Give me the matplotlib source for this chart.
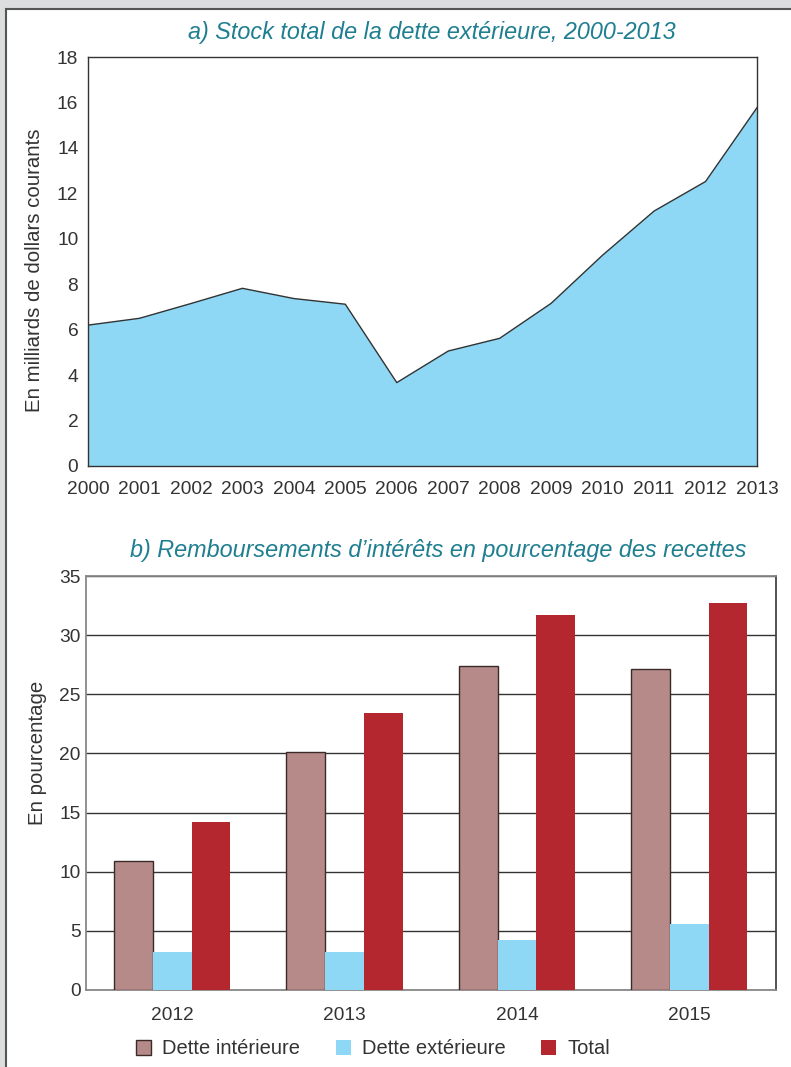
import matplotlib
matplotlib.use("Agg")
import matplotlib.pyplot as plt
from matplotlib.patches import Rectangle, Patch
import numpy as np

plt.rcParams['font.family'] = ['Liberation Sans', 'DejaVu Sans']

years_a = [2000, 2001, 2002, 2003, 2004, 2005, 2006, 2007, 2008, 2009, 2010, 2011, 2012, 2013]
stock = [6.2, 6.5, 7.15, 7.82, 7.37, 7.12, 3.67, 5.06, 5.62, 7.16, 9.28, 11.22, 12.52, 15.77]

years_b = ['2012', '2013', '2014', '2015']
dette_int = [10.93, 20.1, 27.4, 27.1]
dette_ext = [3.21, 3.21, 4.23, 5.58]
total = [14.2, 23.4, 31.7, 32.7]

title_a = "a) Stock total de la dette extérieure, 2000-2013"
title_b = "b) Remboursements d\u2019intérêts en pourcentage des recettes"

W, H = 791, 1067
fig = plt.figure(figsize=(W / 100, H / 100), dpi=100)
fig.patch.set_facecolor('#dcdddf')
fig.patches.append(Rectangle((6 / W, -0.01), 1 - 6 / W + 0.01, 1 - 9 / H + 0.01, transform=fig.transFigure,
                             facecolor='white', edgecolor='#555555', linewidth=1.5, zorder=-5))

txt = '#333333'
teal = '#1f7f91'
blue = '#8ed8f5'

# Chart a
ax1 = fig.add_axes([88 / W, 1 - 466 / H, (757 - 88) / W, (466 - 57) / H])
ax1.fill_between(years_a, stock, 0, facecolor=blue, edgecolor='none')
ax1.plot(years_a, stock, color='#333333', linewidth=1.0)
ax1.set_xlim(2000, 2013)
ax1.set_ylim(0, 18)
ax1.set_yticks(range(0, 19, 2))
ax1.set_xticks(years_a)
ax1.tick_params(length=0, labelsize=13.8, colors=txt)
ax1.tick_params(axis='x', pad=11)
ax1.tick_params(axis='y', pad=7)
for s in ax1.spines.values():
    s.set_color('#333333')
    s.set_linewidth(1.0)
ax1.set_ylabel("En milliards de dollars courants", fontsize=14.7, color=txt)
ax1.yaxis.set_label_coords(-0.066, 0.479)
fig.text(432 / W, 1 - 33 / H, title_a, ha='center', va='center', fontsize=16.8,
         style='italic', color=teal)

# Chart b
ax2 = fig.add_axes([86 / W, 1 - 990 / H, (775.5 - 86) / W, (990 - 576) / H])
x = np.arange(len(years_b))
bw = 0.225
ax2.bar(x - bw, dette_int, bw, color='#b68a88', edgecolor='#3a2a2a', linewidth=1.0, zorder=3,
        label='Dette intérieure')
ax2.bar(x, dette_ext, bw, color=blue, edgecolor='none', zorder=3, label='Dette extérieure')
ax2.bar(x + bw, total, bw, color='#b5272f', edgecolor='none', zorder=3, label='Total')
ax2.set_xlim(-0.5, 3.5)
ax2.set_ylim(0, 35)
ax2.set_yticks(range(0, 36, 5))
ax2.set_xticks(x)
ax2.set_xticklabels(years_b)
ax2.yaxis.grid(True, color='#333333', linewidth=1.0, zorder=1)
ax2.set_axisbelow(True)
ax2.tick_params(length=0, labelsize=13.8, colors=txt)
ax2.tick_params(axis='x', pad=12)
ax2.tick_params(axis='y', pad=4)
ax2.spines['top'].set_color('#888888')
ax2.spines['left'].set_color('#888888')
ax2.spines['bottom'].set_color('#888888')
ax2.spines['right'].set_color('#444444')
for s in ax2.spines.values():
    s.set_linewidth(1.3)
ax2.set_ylabel("En pourcentage", fontsize=14.7, color=txt)
ax2.yaxis.set_label_coords(-0.057, 0.572)
fig.text(438 / W, 1 - 551 / H, title_b, ha='center', va='center', fontsize=16.8,
         style='italic', color=teal)

handles = [Patch(facecolor='#b68a88', edgecolor='#3a2a2a', linewidth=1.0),
           Patch(facecolor=blue, edgecolor='none'),
           Patch(facecolor='#b5272f', edgecolor='none')]
leg = fig.legend(handles, ['Dette intérieure', 'Dette extérieure', 'Total'],
                 loc='center', bbox_to_anchor=(373 / W, 1 - 1049 / H), ncol=3, frameon=False,
                 fontsize=14.5, handlelength=0.75, handleheight=0.75, handletextpad=0.55,
                 columnspacing=1.75, labelcolor=txt)

fig.savefig('out.png', dpi=100, facecolor=fig.get_facecolor())
